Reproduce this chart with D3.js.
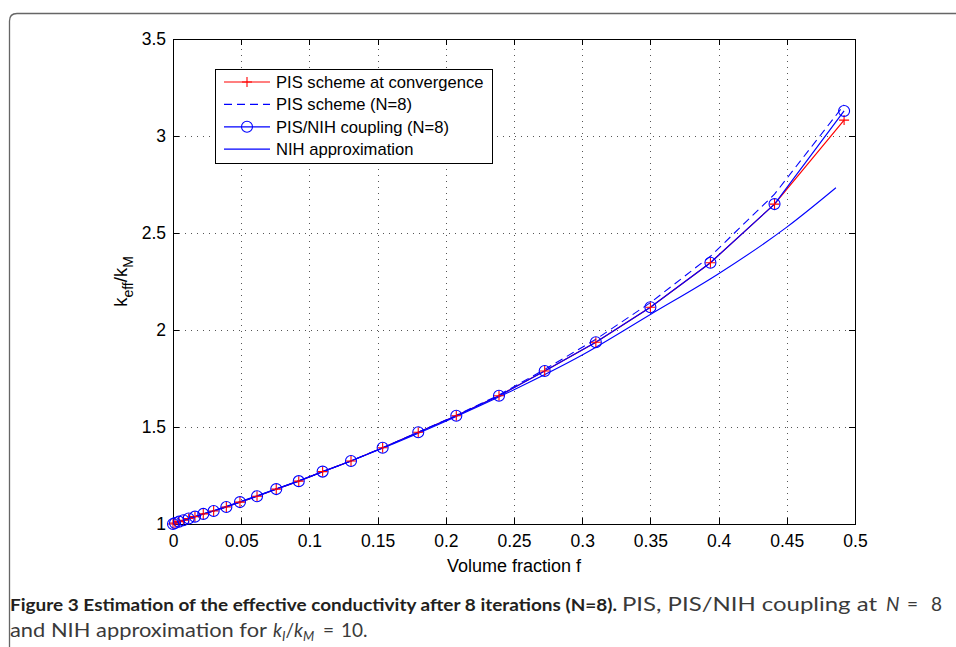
<!DOCTYPE html>
<html lang="en">
<head>
<meta charset="UTF-8">
<title>Effective conductivity after 8 iterations</title>
<style>
  body { margin: 0; background: #fff; }
  svg { display: block; }
  .axis text { font-family: "Liberation Sans", Arial, sans-serif; font-size: 17.5px; fill: #000; }
  .axis path, .axis line { stroke: #000; fill: none; shape-rendering: crispEdges; }
  .grid line { stroke: #555; stroke-dasharray: 1,5; shape-rendering: crispEdges; }
  .legend text { font-family: "Liberation Sans", Arial, sans-serif; font-size: 16.6px; }
  .caption { font-family: Lato, "Open Sans", sans-serif; font-size: 19px; fill: #3a3a3a; }
</style>
<script src="https://d3js.org/d3.v7.min.js"></script>
</head>
<body>
<div id="graph"></div>
<script>
// volume fractions of the iterates
const fracs = [0, 0.0015, 0.0044, 0.0076, 0.0115, 0.0161, 0.0222, 0.0298, 0.0391, 0.0491,
  0.0616, 0.0757, 0.0922, 0.1097, 0.1305, 0.1537, 0.1798, 0.2077, 0.239, 0.2725,
  0.310, 0.350, 0.394, 0.441, 0.492];
// PIS scheme at convergence (red +)
const pisConv = [1, 1.005, 1.012, 1.019, 1.028, 1.038, 1.052, 1.067, 1.088, 1.113,
  1.143, 1.180, 1.221, 1.270, 1.325, 1.393, 1.473, 1.558, 1.661, 1.789,
  1.937, 2.117, 2.347, 2.649, 3.082];
// PIS scheme N=8 (dashed)
const pisN8 = [1, 1.005, 1.012, 1.019, 1.028, 1.038, 1.052, 1.067, 1.088, 1.113,
  1.143, 1.180, 1.221, 1.270, 1.325, 1.393, 1.473, 1.560, 1.665, 1.797,
  1.952, 2.141, 2.380, 2.700, 3.160];
// PIS/NIH coupling N=8 (circles)
const coupling = [1, 1.005, 1.012, 1.019, 1.028, 1.038, 1.052, 1.067, 1.088, 1.113,
  1.143, 1.180, 1.221, 1.270, 1.325, 1.393, 1.473, 1.558, 1.661, 1.789,
  1.937, 2.117, 2.347, 2.649, 3.129];
// NIH approximation (thin solid curve)
const nihF = [0, 0.05, 0.1, 0.15, 0.2, 0.25, 0.3, 0.35, 0.4, 0.45, 0.486];
const nihK = [1, 1.117, 1.243, 1.380, 1.530, 1.692, 1.871, 2.080, 2.290, 2.530, 2.733];

const xTicks = [0, 0.05, 0.1, 0.15, 0.2, 0.25, 0.3, 0.35, 0.4, 0.45, 0.5];
const yTicks = [1, 1.5, 2, 2.5, 3, 3.5];

const width = 956, height = 647;
const margins = { top: 39, bottom: 123, left: 173, right: 101 };

const svg = d3.select("#graph").append("svg")
  .attr("width", width).attr("height", height);

// figure frame with rounded top-left corner
svg.append("path")
  .attr("d", `M9.5,${height + 2} L9.5,21 Q9.5,13.5 17,13.5 L${width + 2},13.5`)
  .attr("fill", "none").attr("stroke", "#666").attr("stroke-width", 1.3);

const x = d3.scaleLinear().domain([0, 0.5]).range([margins.left, width - margins.right]);
const y = d3.scaleLinear().domain([1, 3.5]).range([height - margins.bottom, margins.top]);
const x0 = x.range()[0], x1 = x.range()[1], y0 = y.range()[0], y1 = y.range()[1];

// grid
const grid = svg.append("g").attr("class", "grid");
grid.selectAll(".gx").data(xTicks.slice(1, -1)).enter().append("line")
  .attr("x1", d => Math.round(x(d)) + 0.5).attr("x2", d => Math.round(x(d)) + 0.5)
  .attr("y1", y0).attr("y2", y1);
grid.selectAll(".gy").data(yTicks.slice(1, -1)).enter().append("line")
  .attr("y1", d => Math.round(y(d)) + 0.5).attr("y2", d => Math.round(y(d)) + 0.5)
  .attr("x1", x0).attr("x2", x1);

// axes: ticks inside, on all four sides
const fmt = d => String(d);
svg.append("g").attr("class", "axis").attr("transform", `translate(0,${y0})`)
  .call(d3.axisBottom(x).tickValues(xTicks).tickFormat(fmt).tickSizeInner(-6).tickSizeOuter(0).tickPadding(11));
svg.append("g").attr("class", "axis").attr("transform", `translate(0,${y1})`)
  .call(d3.axisTop(x).tickValues(xTicks).tickFormat("").tickSizeInner(-6).tickSizeOuter(0));
svg.append("g").attr("class", "axis").attr("transform", `translate(${x0},0)`)
  .call(d3.axisLeft(y).tickValues(yTicks).tickFormat(fmt).tickSizeInner(-6).tickSizeOuter(0).tickPadding(7));
svg.append("g").attr("class", "axis").attr("transform", `translate(${x1},0)`)
  .call(d3.axisRight(y).tickValues(yTicks).tickFormat("").tickSizeInner(-6).tickSizeOuter(0));
svg.selectAll(".axis .domain").remove();
svg.append("rect")
  .attr("x", x0 + 0.5).attr("y", y1 + 0.5).attr("width", x1 - x0).attr("height", y0 - y1)
  .attr("fill", "none").attr("stroke", "#000").attr("shape-rendering", "crispEdges");

// lines
const pts = arr => fracs.map((f, i) => [f, arr[i]]);
const line = d3.line().x(d => x(d[0])).y(d => y(d[1]));

svg.append("path").datum(pts(pisConv)).attr("d", line)
  .attr("fill", "none").attr("stroke", "#ff0000").attr("stroke-width", 1.2);
svg.append("path").datum(pts(pisN8)).attr("d", line)
  .attr("fill", "none").attr("stroke", "#0000ff").attr("stroke-width", 1.1)
  .attr("stroke-dasharray", "8,5");
svg.append("path").datum(pts(coupling)).attr("d", line)
  .attr("fill", "none").attr("stroke", "#0000ff").attr("stroke-width", 1.2);
svg.append("path").datum(nihF.map((f, i) => [f, nihK[i]]))
  .attr("d", line.curve(d3.curveMonotoneX))
  .attr("fill", "none").attr("stroke", "#0000ff").attr("stroke-width", 1.1);

// markers
svg.selectAll(".plus").data(pts(pisConv)).enter().append("path")
  .attr("class", "plus")
  .attr("d", d => `M${x(d[0]) - 5},${y(d[1])}h10M${x(d[0])},${y(d[1]) - 5}v10`)
  .attr("stroke", "#ff0000").attr("stroke-width", 1.1);
svg.selectAll(".circ").data(pts(coupling)).enter().append("circle")
  .attr("class", "circ")
  .attr("cx", d => x(d[0])).attr("cy", d => y(d[1])).attr("r", 5.5)
  .attr("fill", "none").attr("stroke", "#0000ff").attr("stroke-width", 1.1);

// axis labels
svg.append("text")
  .attr("x", (x0 + x1) / 2).attr("y", 572)
  .attr("text-anchor", "middle")
  .style("font-family", "Liberation Sans, Arial, sans-serif").style("font-size", "18px")
  .text("Volume fraction f");

const yl = svg.append("text")
  .attr("transform", `translate(127,${(y0 + y1) / 2}) rotate(-90)`)
  .attr("text-anchor", "middle")
  .style("font-family", "Liberation Sans, Arial, sans-serif").style("font-size", "18.5px");
yl.append("tspan").text("k");
yl.append("tspan").attr("dy", 6).style("font-size", "14px").text("eff");
yl.append("tspan").attr("dy", -6).text("/k");
yl.append("tspan").attr("dy", 6).style("font-size", "14px").text("M");

// legend
const legendItems = [
  { text: "PIS scheme at convergence", color: "#ff0000", dash: null, mark: "plus" },
  { text: "PIS scheme (N=8)", color: "#0000ff", dash: "8,5", mark: null },
  { text: "PIS/NIH coupling (N=8)", color: "#0000ff", dash: null, mark: "circle" },
  { text: "NIH approximation", color: "#0000ff", dash: null, mark: null }
];
const legend = svg.append("g").attr("class", "legend");
legend.append("rect")
  .attr("x", 215.5).attr("y", 69.5).attr("width", 277).attr("height", 94)
  .attr("fill", "#fff").attr("stroke", "#000");
const rows = legend.selectAll(".row").data(legendItems).enter().append("g")
  .attr("transform", (d, i) => `translate(0,${82 + i * 22.4})`);
rows.append("line")
  .attr("x1", 224).attr("x2", 270).attr("y1", 0).attr("y2", 0)
  .attr("stroke", d => d.color).attr("stroke-width", 1.2)
  .attr("stroke-dasharray", d => d.dash);
rows.filter(d => d.mark === "plus").append("path")
  .attr("d", "M242,0h10M247,-5v10").attr("stroke", "#ff0000").attr("stroke-width", 1.1);
rows.filter(d => d.mark === "circle").append("circle")
  .attr("cx", 247).attr("cy", 0).attr("r", 5.5)
  .attr("fill", "none").attr("stroke", "#0000ff").attr("stroke-width", 1.1);
rows.append("text").attr("x", 276).attr("y", 6).text(d => d.text);

// caption
const cap = (xp, yp, str) => svg.append("text").attr("class", "caption")
  .attr("x", xp).attr("y", yp).text(str);
cap(10, 611, "Figure 3 Estimation of the effective conductivity after 8 iterations (N=8).")
  .attr("textLength", 607).attr("lengthAdjust", "spacingAndGlyphs")
  .style("font-size", "17px").style("font-weight", "bold").style("fill", "#231f20");
cap(622, 611, "PIS, PIS/NIH coupling at")
  .attr("textLength", 255).attr("lengthAdjust", "spacingAndGlyphs");
cap(886, 611, "N").style("font-style", "italic");
cap(907, 611, "=");
cap(931, 611, "8");
cap(10, 637, "and NIH approximation for")
  .attr("textLength", 257).attr("lengthAdjust", "spacingAndGlyphs");
const kk = svg.append("text").attr("class", "caption").attr("x", 273).attr("y", 637)
  .style("font-style", "italic");
kk.append("tspan").text("k");
kk.append("tspan").attr("dy", 4).style("font-size", "13px").text("I");
kk.append("tspan").attr("dy", -4).style("font-style", "normal").text("/");
kk.append("tspan").text("k");
kk.append("tspan").attr("dy", 4).style("font-size", "13px").text("M");
cap(323, 637, "=");
cap(341, 637, "10.");
</script>
</body>
</html>
